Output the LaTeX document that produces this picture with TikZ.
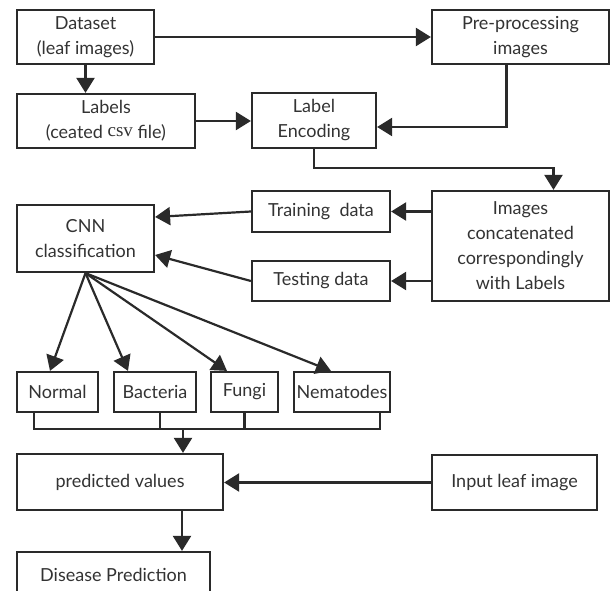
\documentclass[tikz,border=0pt]{standalone}
\usepackage{fontspec}
\setmainfont{Lato}
\newfontfamily\csvfont{Liberation Serif}
\usetikzlibrary{arrows.meta}
\definecolor{ink}{HTML}{2A2A2A}
\definecolor{txt}{HTML}{333333}
\tikzset{
  box/.style={draw=ink, line width=2.2pt, inner sep=0pt, align=center, text=txt,
    font=\fontsize{18}{25}\selectfont, fill=white},
  conn/.style={draw=ink, line width=2.2pt},
  arr/.style={conn, -{Triangle[length=15pt,width=18pt]}},
}
\begin{document}
\begin{tikzpicture}[x=1pt,y=-1pt]
\useasboundingbox (0,0) rectangle (611,591);
% top
\node[box, minimum width=137pt, minimum height=54pt] (ds) at (85.5,37) {Dataset\\(leaf images)};
\node[box, minimum width=177pt, minimum height=54pt] (pp) at (520.5,37) {Pre-processing\\images};
\node[box, minimum width=178pt, minimum height=54pt] (lb) at (106,121) {Labels\\(ceated \raisebox{2pt}{\csvfont\fontsize{19}{25}\selectfont csv} file)};
\node[box, minimum width=124pt, minimum height=55pt] (le) at (314,120.5) {Label\\Encoding};
% middle
\node[box, minimum width=138pt, minimum height=41pt] (tr) at (321,211.5) {Training\ \ data};
\node[box, minimum width=138pt, minimum height=40pt] (te) at (321,281) {Testing data};
\node[box, minimum width=177pt, minimum height=110pt] (im) at (520.5,246) {Images\\concatenated\\correspondingly\\with Labels};
\node[box, minimum width=137pt, minimum height=67pt] (cnn) at (85.5,238.5) {CNN\\classification};
% classes
\node[box, minimum width=81pt, minimum height=40pt] (nm) at (57.5,392) {Normal};
\node[box, minimum width=82pt, minimum height=40pt] (ba) at (155,392) {Bacteria};
\node[box, minimum width=67pt, minimum height=40pt] (fu) at (244.5,392) {Fungi};
\node[box, minimum width=96pt, minimum height=40pt] (ne) at (342,392) {Nematodes};
% bottom
\node[box, minimum width=206pt, minimum height=56pt] (pv) at (120,482) {predicted values};
\node[box, minimum width=165pt, minimum height=55pt] (in) at (514.5,482.5) {Input leaf image};
\node[box, minimum width=193pt, minimum height=46pt] (dp) at (113.5,575) {Disease Prediction};
\coordinate (bus) at (183,429);
% connectors
\draw[arr] (ds.east) -- (pp.west);
\draw[arr] (ds.south) -- (ds.south |- lb.north);
\draw[arr] (lb.east) -- (lb.east -| le.west);
\draw[arr] ([xshift=-14pt]pp.south) |- ([yshift=-6.5pt]le.east);
\draw[arr] (le.south) -- ++(0,19) -| ([xshift=33pt]im.north);
\draw[arr] (tr.east -| im.west) -- (tr.east);
\draw[arr] (te.east -| im.west) -- (te.east);
\draw[arr] (tr.west) -- ([yshift=21.5pt]cnn.east);
\draw[arr] (te.west) -- ([yshift=-16.5pt]cnn.east);
\draw[arr] (cnn.south) -- ([xshift=-7.5pt]nm.north);
\draw[arr] (cnn.south) -- ([xshift=-27pt]ba.north);
\draw[arr] (cnn.south) -- ([xshift=-17.5pt]fu.north);
\draw[arr] (cnn.south) -- ([xshift=-11pt]ne.north);
\draw[conn] ([xshift=-23.5pt]nm.south) -- ++(0,16) -| ([xshift=38pt]ne.south);
\draw[conn] ([xshift=5pt]ba.south) -- ++(0,16);
\draw[conn] (fu.south) -- ++(0,16);
\draw[arr] (bus) -- (bus |- pv.north);
\draw[arr] (in.west) -- (in.west -| pv.east);
\draw[arr] ([xshift=62pt]pv.south) -- ([xshift=62pt]pv.south |- dp.north);
\end{tikzpicture}
\end{document}
